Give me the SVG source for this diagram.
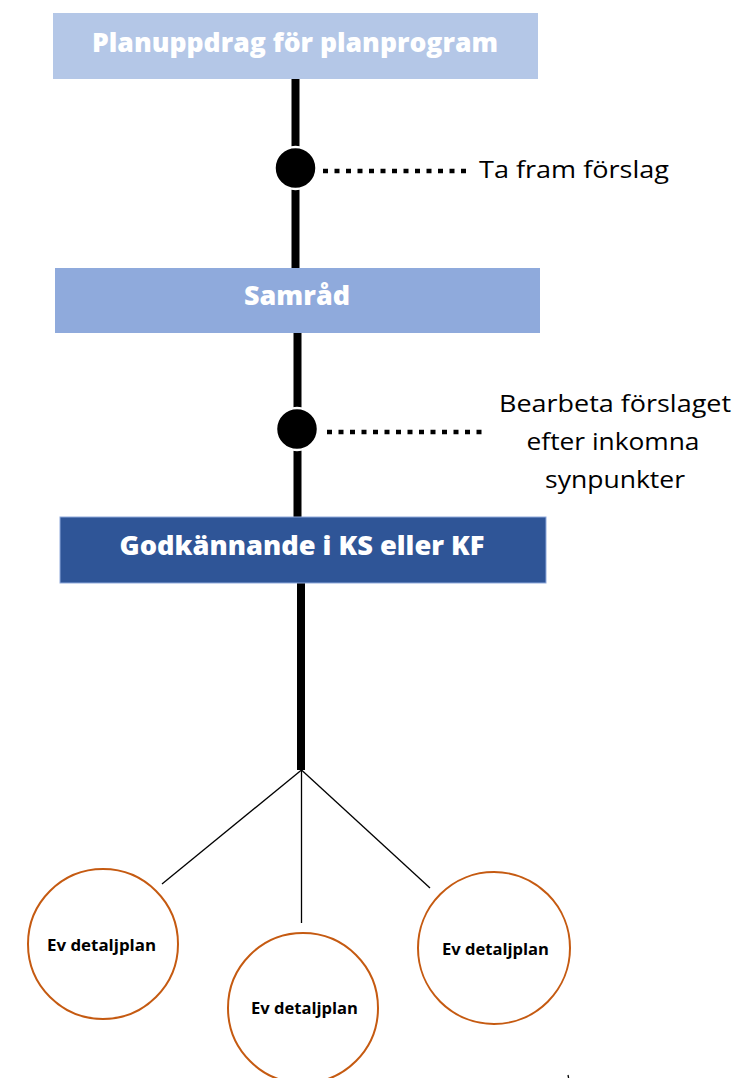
<svg xmlns="http://www.w3.org/2000/svg" width="735" height="1078" viewBox="0 0 735 1078">
<style>
.box-t{font-family:"Open Sans","Liberation Sans",Arial,sans-serif;font-weight:800;fill:#ffffff;text-anchor:middle;}
.lbl{font-family:"Open Sans","Liberation Sans",Arial,sans-serif;font-size:24px;fill:#000000;text-anchor:middle;}
.ev{font-family:"Open Sans","Liberation Sans",Arial,sans-serif;font-weight:bold;font-size:16px;fill:#000000;text-anchor:middle;}
.trunk{stroke:#000000;stroke-width:8;fill:none;}
.dots{stroke:#000000;stroke-width:4.5;stroke-dasharray:5 6.5;fill:none;}
.dot{fill:#000000;stroke:#ffffff;stroke-width:2.5;}
.thin{stroke:#000000;stroke-width:1.3;fill:none;}
.circ{fill:#ffffff;stroke:#C55A11;stroke-width:2;}
</style>
<rect width="735" height="1078" fill="#ffffff"/>
<g id="connectors">
<line class="trunk" x1="295.5" y1="79" x2="295.5" y2="268"/>
<line class="trunk" x1="297.5" y1="333" x2="297.5" y2="517"/>
<line class="trunk" x1="301" y1="583" x2="301" y2="770"/>
<line class="dots" x1="323" y1="171" x2="467" y2="171"/>
<line class="dots" x1="327" y1="432" x2="483" y2="432"/>
<circle class="dot" cx="295.5" cy="168" r="21"/>
<circle class="dot" cx="297" cy="429" r="21"/>
<line class="thin" x1="301.5" y1="770" x2="162" y2="884"/>
<line class="thin" x1="301.5" y1="770" x2="301.5" y2="923"/>
<line class="thin" x1="301.5" y1="770" x2="430" y2="888"/>
<line class="thin" x1="568" y1="1075" x2="568.6" y2="1078"/>
</g>
<g id="node-planuppdrag">
<rect x="53" y="13" width="485" height="66" fill="#B4C7E7"/>
<text class="box-t" x="295" y="52" font-size="27" textLength="406" lengthAdjust="spacingAndGlyphs">Planuppdrag för planprogram</text>
</g>
<g id="label-ta-fram">
<text class="lbl" x="574" y="178" textLength="190" lengthAdjust="spacingAndGlyphs">Ta fram förslag</text>
</g>
<g id="node-samrad">
<rect x="55" y="268" width="485" height="65" fill="#8FAADC"/>
<text class="box-t" x="297" y="305" font-size="27" textLength="106" lengthAdjust="spacingAndGlyphs">Samråd</text>
</g>
<g id="label-bearbeta">
<text class="lbl" x="615" y="412" textLength="232" lengthAdjust="spacingAndGlyphs">Bearbeta förslaget</text>
<text class="lbl" x="613" y="450" textLength="173" lengthAdjust="spacingAndGlyphs">efter inkomna</text>
<text class="lbl" x="615" y="488" textLength="140" lengthAdjust="spacingAndGlyphs">synpunkter</text>
</g>
<g id="node-godkannande">
<rect x="60" y="517" width="486" height="66" fill="#2F5597" stroke="#8FAADC" stroke-width="1"/>
<text class="box-t" x="302" y="555" font-size="27" textLength="365" lengthAdjust="spacingAndGlyphs">Godkännande i KS eller KF</text>
</g>
<g id="node-ev1">
<circle class="circ" cx="103" cy="944" r="75"/>
<text class="ev" x="101.5" y="951" textLength="109" lengthAdjust="spacingAndGlyphs">Ev detaljplan</text>
</g>
<g id="node-ev2">
<circle class="circ" cx="303" cy="1008" r="75"/>
<text class="ev" x="304.5" y="1014" textLength="107" lengthAdjust="spacingAndGlyphs">Ev detaljplan</text>
</g>
<g id="node-ev3">
<circle class="circ" cx="494" cy="948" r="76"/>
<text class="ev" x="495.5" y="955" textLength="107" lengthAdjust="spacingAndGlyphs">Ev detaljplan</text>
</g>
</svg>
